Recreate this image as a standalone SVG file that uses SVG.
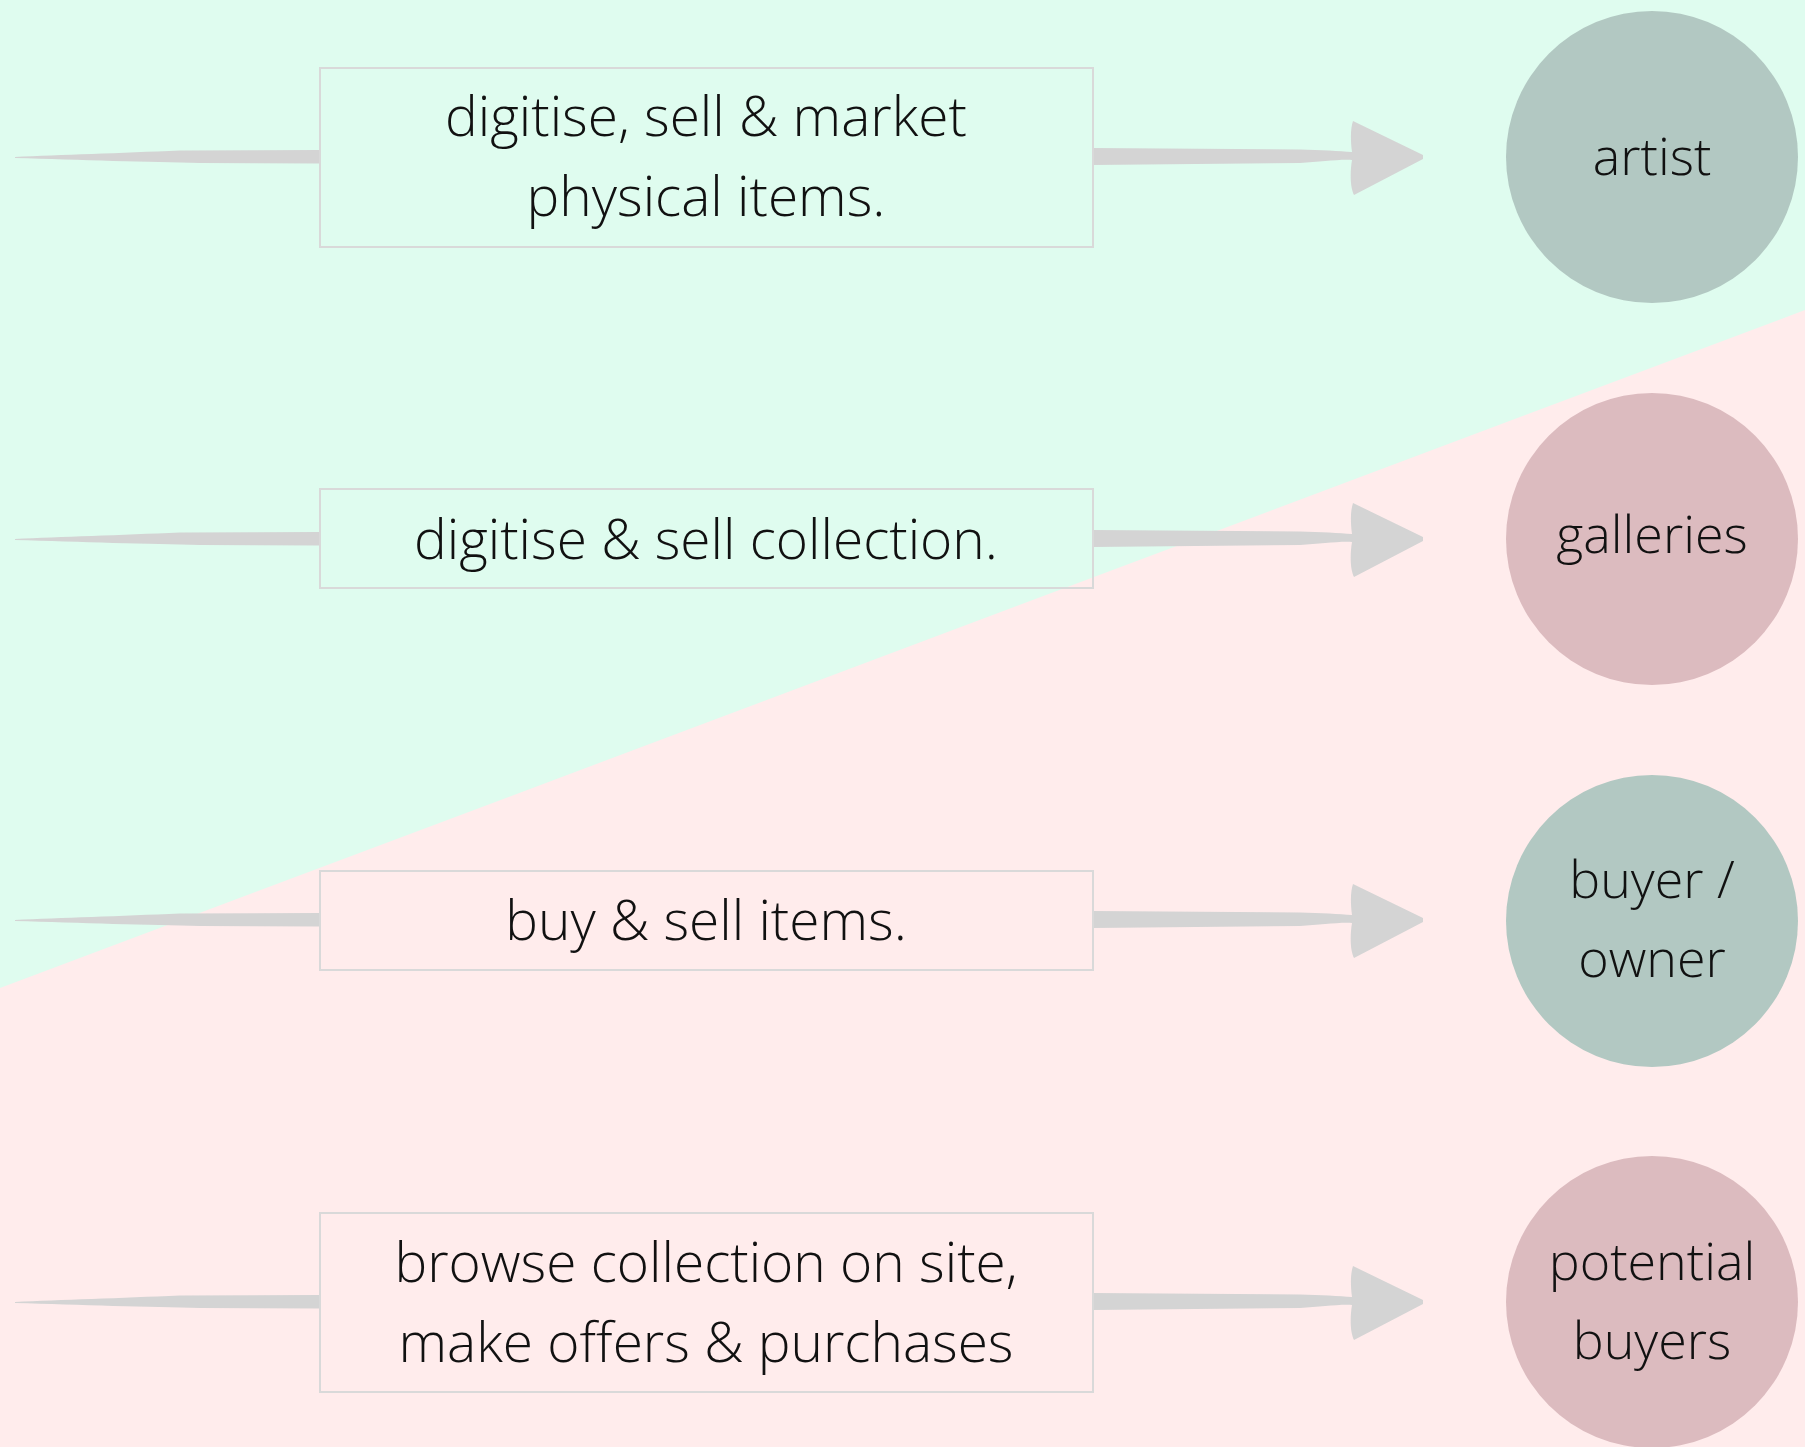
<svg xmlns="http://www.w3.org/2000/svg" xmlns:xlink="http://www.w3.org/1999/xlink" width="1805" height="1447" viewBox="0 0 1805 1447">
<style>
.box{fill:none;stroke:#d9d9d9;stroke-width:2}
.lbl{font-family:"Open Sans","Segoe UI","Liberation Sans",sans-serif;font-weight:300;font-size:52px;fill:#111;text-anchor:middle}
.bl{font-size:55px}
.arr{fill:#d4d4d4}
.cg{fill:#b2c8c2}
.cp{fill:#dcbbbf}
</style>
<defs>
<path id="tail" d="M15,0 C60,-2 120,-4 180,-6.5 L320,-7 L320,6.5 L200,6 C150,5 80,3 15,1 Z"/>
<path id="head" d="M1093,-9 L1300,-7.5 C1320,-7 1340,-6 1352,-5 C1350,-20 1351,-30 1353,-36 L1423,-2 L1423,2 L1354,38 C1350,30 1350,15 1352,3 C1340,2 1320,5 1300,6 L1093,8 Z"/>
</defs>
<rect x="0" y="0" width="1805" height="1447" fill="#ffecec"/>
<polygon points="0,0 1805,0 1805,310 0,988" fill="#dffcef"/>
<g id="connectors" class="arr">
<use xlink:href="#tail" transform="translate(0,157)"/>
<use xlink:href="#head" transform="translate(0,157)"/>
<use xlink:href="#tail" transform="translate(0,539)"/>
<use xlink:href="#head" transform="translate(0,539)"/>
<use xlink:href="#tail" transform="translate(0,920)"/>
<use xlink:href="#head" transform="translate(0,920)"/>
<use xlink:href="#tail" transform="translate(0,1302)"/>
<use xlink:href="#head" transform="translate(0,1302)"/>
</g>
<g id="box1"><rect class="box" x="320" y="68" width="773" height="179"/><text class="lbl bl" x="706" y="136">digitise, sell &amp; market</text><text class="lbl bl" x="706" y="216">physical items.</text></g>
<g id="box2"><rect class="box" x="320" y="489" width="773" height="99"/><text class="lbl bl" x="706" y="559">digitise &amp; sell collection.</text></g>
<g id="box3"><rect class="box" x="320" y="871" width="773" height="99"/><text class="lbl bl" x="706" y="940">buy &amp; sell items.</text></g>
<g id="box4"><rect class="box" x="320" y="1213" width="773" height="179"/><text class="lbl bl" x="706" y="1282">browse collection on site,</text><text class="lbl bl" x="706" y="1362">make offers &amp; purchases</text></g>
<g id="artist"><circle class="cg" cx="1652" cy="157" r="146"/><text class="lbl" x="1652" y="175">artist</text></g>
<g id="galleries"><circle class="cp" cx="1652" cy="539" r="146"/><text class="lbl" x="1652" y="553">galleries</text></g>
<g id="buyer"><circle class="cg" cx="1652" cy="921" r="146"/><text class="lbl" x="1652" y="898">buyer /</text><text class="lbl" x="1652" y="977">owner</text></g>
<g id="potential"><circle class="cp" cx="1652" cy="1302" r="146"/><text class="lbl" x="1652" y="1280">potential</text><text class="lbl" x="1652" y="1359">buyers</text></g>
</svg>
